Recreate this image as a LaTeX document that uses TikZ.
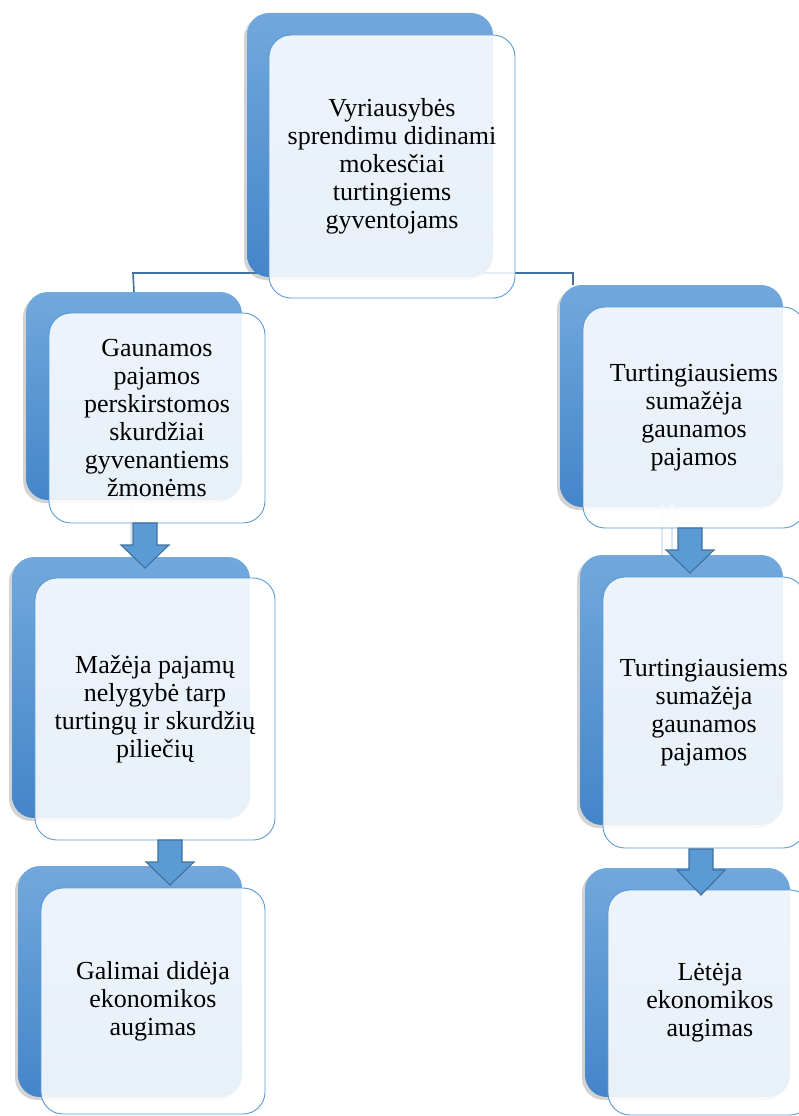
\documentclass[tikz,border=0pt]{standalone}
\usepackage{fontspec}
\setmainfont{Liberation Serif}
\usetikzlibrary{shadows}
\definecolor{edgeblue}{HTML}{5B9BD5}
\definecolor{darkblue}{HTML}{41719C}
\definecolor{btop}{HTML}{72A8DC}
\definecolor{bbot}{HTML}{4485CA}
\definecolor{faintblue}{HTML}{DCE7F3}
\tikzset{
  backbox/.style={rounded corners=22pt, top color=btop, bottom color=bbot, draw=none,
    drop shadow={shadow xshift=-3pt, shadow yshift=-3pt, opacity=0.35}, inner sep=0pt},
  frontbox/.style={rounded corners=22pt, draw=edgeblue, line width=0.9pt, fill=white,
    fill opacity=0.88, text opacity=1, inner sep=0pt, align=center,
    font=\fontsize{26}{28}\selectfont},
  connline/.style={draw=darkblue, line width=1.6pt},
  faintline/.style={draw=faintblue, line width=1.2pt},
  blockarrow/.style={fill=edgeblue, draw=darkblue, line width=1.1pt, line join=miter}
}
\newcommand\dnarrow[4]{%
  \path[blockarrow] (#1-12,#2) -- (#1+12,#2) -- (#1+12,#3) -- (#1+24,#3) -- (#1,#4)
    -- (#1-24,#3) -- (#1-12,#3) -- cycle;}
\begin{document}
\begin{tikzpicture}[x=1pt,y=-1pt]
\useasboundingbox (0,0) rectangle (799,1116);
\clip (0,0) rectangle (799,1116);

% connector coordinates
\coordinate (jl) at (133,273);
\coordinate (jr) at (573,273);

% back boxes (named)
\node[backbox, minimum width=216pt, minimum height=208pt] (l1b) at (134,396) {};
\node[backbox, minimum width=238pt, minimum height=261pt] (l2b) at (131,687.5) {};
\node[backbox, minimum width=224pt, minimum height=231pt] (l3b) at (130,981.5) {};
\node[backbox, minimum width=223pt, minimum height=222pt] (r1b) at (671.5,396) {};
\node[backbox, minimum width=203pt, minimum height=270pt] (r2b) at (681.5,690) {};
\node[backbox, minimum width=205pt, minimum height=229pt] (r3b) at (687.5,982.5) {};

% connector from top box to the two columns (passes behind the top box)
\draw[connline] (l1b.north) -- (jl) -- (jr) -- (jr |- r1b.north);

\node[backbox, minimum width=246pt, minimum height=264pt] (topb) at (370,145) {};

% faint hidden connectors
\coordinate (fl) at (131,500);
\coordinate (fr1) at (662,505);
\coordinate (fr2) at (672,505);
\draw[faintline] (fl) -- (fl |- l2b.north);
\draw[faintline] (fr1) -- (fr1 |- r2b.north);
\draw[faintline] (fr2) -- (fr2 |- r2b.north);

% front boxes
\node[frontbox, minimum width=246pt, minimum height=263pt] (top) at (392,166.5)
  {Vyriausybės\\sprendimu didinami\\mokesčiai\\turtingiems\\gyventojams};
\node[frontbox, minimum width=216pt, minimum height=210pt] (l1) at (157,418)
  {Gaunamos\\pajamos\\perskirstomos\\skurdžiai\\gyvenantiems\\žmonėms};
\node[frontbox, minimum width=240pt, minimum height=262pt] (l2) at (155,709)
  {Mažėja pajamų\\nelygybė tarp\\turtingų ir skurdžių\\piliečių};
\node[frontbox, minimum width=224pt, minimum height=226pt] (l3) at (153,1001)
  {Galimai didėja\\ekonomikos\\augimas};
\node[frontbox, minimum width=222pt, minimum height=221pt] (r1) at (694,417.5)
  {Turtingiausiems\\sumažėja\\gaunamos\\pajamos};
\node[frontbox, minimum width=202pt, minimum height=271pt] (r2) at (704,712.5)
  {Turtingiausiems\\sumažėja\\gaunamos\\pajamos};
\node[frontbox, minimum width=204pt, minimum height=225pt] (r3) at (710,1002.5)
  {Lėtėja\\ekonomikos\\augimas};

% block arrows between boxes
\dnarrow{145}{523}{545}{568}
\dnarrow{170}{840}{862}{885}
\dnarrow{690}{528}{550}{573}
\dnarrow{701}{849}{870}{895}
\end{tikzpicture}
\end{document}
